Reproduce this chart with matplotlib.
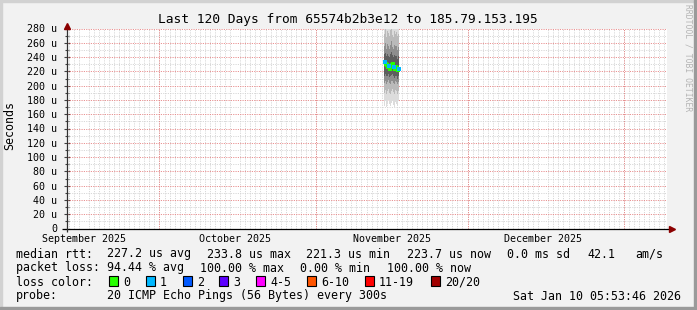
import matplotlib
matplotlib.use('Agg')
import matplotlib.pyplot as plt
import matplotlib.dates as mdates
from matplotlib.patches import Rectangle
import datetime as dt

# ---------------- data ----------------
title = "Last 120 Days from 65574b2b3e12 to 185.79.153.195"
x_start = dt.datetime(2025, 9, 12, 16, 30)
x_end = dt.datetime(2026, 1, 9, 12, 0)
month_starts = [dt.datetime(2025, 10, 1), dt.datetime(2025, 11, 1),
                dt.datetime(2025, 12, 1), dt.datetime(2026, 1, 1)]
month_label_pos = [dt.datetime(2025, 9, 16), dt.datetime(2025, 10, 16),
                   dt.datetime(2025, 11, 16), dt.datetime(2025, 12, 16)]
month_labels = ["September 2025", "October 2025", "November 2025", "December 2025"]
y_ticks = [0, 20, 40, 60, 80, 100, 120, 140, 160, 180, 200, 220, 240, 260, 280]
y_tick_labels = ["0", "20 u", "40 u", "60 u", "80 u", "100 u", "120 u", "140 u",
                 "160 u", "180 u", "200 u", "220 u", "240 u", "260 u", "280 u"]

sample_start = dt.datetime(2025, 11, 14, 12, 0)
step_hours = 4.8
n_samples = 15
times = [sample_start + dt.timedelta(hours=step_hours * i) for i in range(n_samples)]

median_us = [233.8, 231.0, 229.5, 226.0, 228.0, 224.0, 227.5, 229.0,
             231.0, 226.5, 223.0, 226.5, 224.5, 221.3, 223.7]
loss_count = [1, 0, 0, 0, 1, 0, 0, 0, 0, 1, 0, 0, 0, 0, 1]

smoke_bottom = [172, 178, 170, 175, 180, 174, 171, 176, 179, 173, 170, 177, 175, 172, 178]
smoke_top = [296, 310, 288, 305, 299, 292, 302, 308, 295, 290, 304, 298, 301, 293, 297]
q1_lo = [190, 194, 188, 192, 196, 190, 189, 193, 195, 191, 188, 194, 192, 189, 193]
q1_hi = [272, 280, 268, 276, 274, 270, 278, 282, 271, 268, 276, 273, 275, 269, 272]
q2_lo = [204, 207, 203, 205, 208, 204, 203, 206, 207, 204, 202, 206, 205, 202, 205]
q2_hi = [256, 260, 252, 258, 255, 252, 257, 262, 254, 251, 257, 255, 256, 250, 254]
q3_lo = [214, 216, 213, 214, 216, 212, 213, 215, 216, 213, 211, 214, 213, 210, 213]
q3_hi = [245, 246, 242, 244, 242, 240, 244, 247, 243, 240, 243, 242, 242, 238, 241]

loss_labels = ["0", "1", "2", "3", "4-5", "6-10", "11-19", "20/20"]
loss_colors = ["#26ff00", "#00b8ff", "#0059ff", "#5e00ff", "#ff00ff",
               "#ff5500", "#ff0000", "#a10000"]

legend_rtt = ["median rtt:", "227.2 us avg", "233.8 us max", "221.3 us min",
              "223.7 us now", "0.0 ms sd", "42.1", "am/s"]
legend_loss = ["packet loss:", "94.44 % avg", "100.00 % max", "0.00 % min", "100.00 % now"]
probe_text = ["probe:", "20 ICMP Echo Pings (56 Bytes) every 300s", "Sat Jan 10 05:53:46 2026"]

# ---------------- layout ----------------
W, H = 697, 310
MONO = "DejaVu Sans Mono"
plt.rcParams['font.family'] = [MONO]

fig = plt.figure(figsize=(W / 100, H / 100), dpi=100)
fig.patch.set_facecolor('#f2f2f2')


def fx(x):
    return x / W


def fy(y):
    return 1 - y / H


# 3D-ish frame
fig.patches.append(Rectangle((0, 0), fx(2), 1, transform=fig.transFigure, color='#d2d2d2', zorder=0))
fig.patches.append(Rectangle((0, fy(2)), 1, 2 / H, transform=fig.transFigure, color='#d2d2d2', zorder=0))
fig.patches.append(Rectangle((fx(694), 0), fx(3), 1, transform=fig.transFigure, color='#9a9a9a', zorder=0))
fig.patches.append(Rectangle((0, 0), 1, 3 / H, transform=fig.transFigure, color='#9a9a9a', zorder=0))

ax = fig.add_axes([fx(67), fy(228.5), 600 / W, 200 / H])
ax.set_facecolor('white')
ax.set_xlim(mdates.date2num(x_start), mdates.date2num(x_end))
ax.set_ylim(0, 280)
for s in ax.spines.values():
    s.set_visible(False)

# grid
minor_c = '#d2d2d2'
major_c = '#e58080'
ax.set_yticks(y_ticks)
ax.set_yticklabels(y_tick_labels)
ax.set_yticks(list(range(10, 280, 20)), minor=True)
for v in range(10, 280, 20):
    ax.axhline(v, color=minor_c, lw=0.6, ls=(0, (1.4, 1.4)), zorder=1)
for v in y_ticks[1:]:
    ax.axhline(v, color=major_c, lw=0.6, ls=(0, (1.4, 1.4)), zorder=1.2)

ax.xaxis.set_minor_locator(mdates.DayLocator())
ax.grid(True, which='minor', axis='x', color=minor_c, lw=0.6, ls=(0, (1.4, 1.4)), zorder=1)
for m in month_starts:
    ax.axvline(mdates.date2num(m), color=major_c, lw=0.6, ls=(0, (1.4, 1.4)), zorder=1.2)
ax.set_axisbelow(True)

ax.set_xticks([mdates.date2num(d) for d in month_label_pos])
ax.set_xticklabels(month_labels)

ax.tick_params(axis='y', which='major', direction='inout', length=4, width=0.8,
               color='#404040', pad=5.0, labelsize=7.2)
ax.tick_params(axis='y', which='minor', direction='inout', length=3, width=0.8, color='#404040')
ax.tick_params(axis='x', which='major', length=0, pad=3.6, labelsize=7.2)
ax.tick_params(axis='x', which='minor', length=0)

# smoke
tn = [mdates.date2num(t) for t in times]
step_days = step_hours / 24.0
edges = tn + [tn[-1] + step_days]


def ext(a):
    return list(a) + [a[-1]]


bands = [(smoke_bottom, smoke_top, '#dcdcdc'),
         (q1_lo, q1_hi, '#bababa'),
         (q2_lo, q2_hi, '#8e8e8e'),
         (q3_lo, q3_hi, '#5e5e5e')]
for lo, hi, c in bands:
    ax.fill_between(edges, ext(lo), ext(hi), step='post', color=c, lw=0, zorder=2)

# medians
centers = [t + step_days / 2 for t in tn]
for t, v, k in zip(centers, median_us, loss_count):
    ax.scatter([t], [v], marker='s', s=6, c=loss_colors[k], linewidths=0,
               zorder=4 + k)

# axes lines with arrows
ax.plot([-5 / 600, 605 / 600], [0, 0], transform=ax.transAxes, color='black', lw=0.9,
        clip_on=False, zorder=5, solid_capstyle='butt')
ax.plot([0, 0], [-3 / 200, 203 / 200], transform=ax.transAxes, color='#303030', lw=0.9,
        clip_on=False, zorder=5, solid_capstyle='butt')
ax.plot([605 / 600], [0], transform=ax.transAxes, marker='>', ms=5, color='#8b0000',
        mec='#8b0000', clip_on=False, zorder=6)
ax.plot([0], [203 / 200], transform=ax.transAxes, marker='^', ms=5, color='#8b0000',
        mec='#8b0000', clip_on=False, zorder=6)

# texts
fig.text(fx(348), fy(19), title, ha='center', va='center', fontsize=9.3, color='black')
fig.text(fx(10), fy(126), "Seconds", rotation=90, ha='center', va='center', fontsize=8.4)
fig.text(fx(688), fy(58), "RRDTOOL / TOBI OETIKER", rotation=270, ha='center', va='center',
         fontsize=5.8, color='#b4b4b4')

LF = 8.4
rtt_x = [16, 107, 207, 306, 407, 507, 587, 635]
for x, s in zip(rtt_x, legend_rtt):
    fig.text(fx(x), fy(254), s, ha='left', va='center', fontsize=LF)
loss_x = [16, 107, 200, 300, 387]
for x, s in zip(loss_x, legend_loss):
    fig.text(fx(x), fy(268), s, ha='left', va='center', fontsize=LF)

fig.text(fx(16), fy(282), "loss color:", ha='left', va='center', fontsize=LF)
box_x = [109, 146, 183, 219, 256, 307, 365, 431]
for x, lab, c in zip(box_x, loss_labels, loss_colors):
    fig.patches.append(Rectangle((fx(x), fy(286)), 9 / W, 10 / H, transform=fig.transFigure,
                                 facecolor=c, edgecolor='black', lw=0.8, zorder=3))
    fig.text(fx(x + 14), fy(282), lab, ha='left', va='center', fontsize=LF)

fig.text(fx(16), fy(296), probe_text[0], ha='left', va='center', fontsize=LF)
fig.text(fx(107), fy(296), probe_text[1], ha='left', va='center', fontsize=LF)
fig.text(fx(681), fy(296), probe_text[2], ha='right', va='center', fontsize=LF)

fig.savefig("out.png", dpi=100, facecolor=fig.get_facecolor())
